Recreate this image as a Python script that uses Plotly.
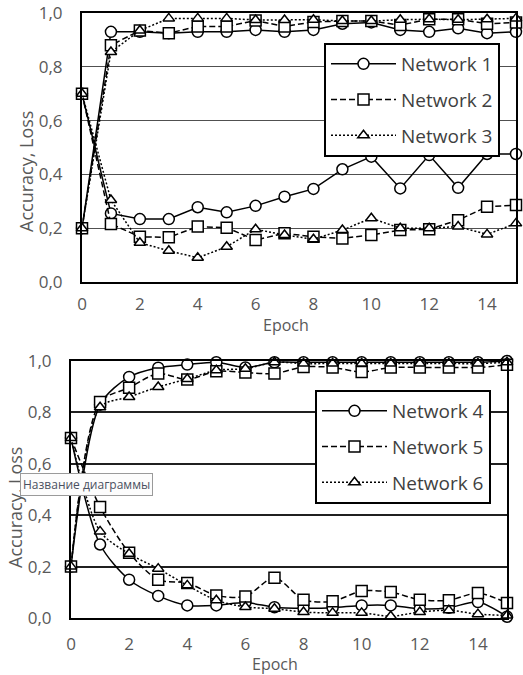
import plotly.graph_objects as go

epochs = list(range(16))

# Top chart
acc_n1 = [0.20, 0.93, 0.93, 0.925, 0.93, 0.93, 0.937, 0.93, 0.937, 0.96, 0.965, 0.937, 0.93, 0.943, 0.925, 0.93]
loss_n1 = [0.70, 0.255, 0.234, 0.234, 0.278, 0.259, 0.283, 0.317, 0.346, 0.419, 0.466, 0.348, 0.472, 0.35, 0.476, 0.476]
acc_n2 = [0.20, 0.88, 0.935, 0.925, 0.95, 0.95, 0.972, 0.95, 0.967, 0.97, 0.97, 0.955, 0.977, 0.977, 0.96, 0.965]
loss_n2 = [0.70, 0.216, 0.168, 0.166, 0.206, 0.202, 0.156, 0.181, 0.168, 0.162, 0.175, 0.193, 0.196, 0.23, 0.28, 0.286]
acc_n3 = [0.20, 0.855, 0.935, 0.98, 0.98, 0.98, 0.974, 0.974, 0.975, 0.97, 0.97, 0.975, 0.977, 0.975, 0.977, 0.98]
loss_n3 = [0.70, 0.305, 0.146, 0.116, 0.09, 0.131, 0.196, 0.175, 0.159, 0.193, 0.237, 0.20, 0.20, 0.206, 0.177, 0.218]

# Bottom chart
acc_n4 = [0.20, 0.83, 0.938, 0.974, 0.986, 0.995, 0.975, 0.995, 0.995, 0.995, 0.995, 0.995, 0.995, 0.995, 0.995, 1.0]
loss_n4 = [0.70, 0.286, 0.149, 0.086, 0.049, 0.049, 0.06, 0.042, 0.038, 0.04, 0.049, 0.049, 0.036, 0.04, 0.062, 0.005]
acc_n5 = [0.20, 0.84, 0.896, 0.951, 0.928, 0.96, 0.955, 0.951, 0.977, 0.975, 0.957, 0.975, 0.975, 0.975, 0.975, 0.985]
loss_n5 = [0.70, 0.432, 0.254, 0.149, 0.136, 0.088, 0.084, 0.157, 0.071, 0.065, 0.105, 0.101, 0.071, 0.069, 0.097, 0.058]
acc_n6 = [0.20, 0.82, 0.86, 0.899, 0.93, 0.964, 0.97, 0.995, 0.99, 0.99, 0.99, 0.99, 0.99, 0.99, 0.99, 0.995]
loss_n6 = [0.70, 0.337, 0.25, 0.192, 0.127, 0.069, 0.043, 0.036, 0.023, 0.02, 0.02, 0.007, 0.023, 0.03, 0.015, 0.01]

y_ticks = [0.0, 0.2, 0.4, 0.6, 0.8, 1.0]
x_ticks = [0, 2, 4, 6, 8, 10, 12, 14]

W, H = 523, 675
FONT = "Open Sans"
GRAY = "#595959"

styles = {
    "circle": dict(dash="solid", size=11),
    "square": dict(dash="6px,3px", size=11),
    "triangle-up": dict(dash="2px,2px", size=10),
}

fig = go.Figure()

def add_net(name, acc, loss, symbol, xa, ya, legend, spline):
    st = styles[symbol]
    for i, ys in enumerate([acc, loss]):
        fig.add_trace(go.Scatter(
            x=epochs, y=ys, name=name, legendgroup=name, showlegend=(i == 0),
            legend=legend, xaxis=xa, yaxis=ya, mode="lines+markers",
            cliponaxis=False, hoverinfo="skip",
            line=dict(color="black", width=1.5, dash=st["dash"],
                      shape="spline" if spline else "linear", smoothing=0.8),
            marker=dict(symbol=symbol, size=st["size"], color="white",
                        line=dict(color="black", width=1.5)),
        ))

add_net("Network 1", acc_n1, loss_n1, "circle", "x", "y", "legend", False)
add_net("Network 2", acc_n2, loss_n2, "square", "x", "y", "legend", False)
add_net("Network 3", acc_n3, loss_n3, "triangle-up", "x", "y", "legend", False)
add_net("Network 4", acc_n4, loss_n4, "circle", "x2", "y2", "legend2", True)
add_net("Network 5", acc_n5, loss_n5, "square", "x2", "y2", "legend2", True)
add_net("Network 6", acc_n6, loss_n6, "triangle-up", "x2", "y2", "legend2", True)

def xaxis(left, right, anchor, standoff):
    return dict(domain=[left / W, right / W], range=[0, 15], anchor=anchor,
                tickvals=x_ticks, showgrid=False, zeroline=False, automargin=False,
                showline=True, linecolor="black", linewidth=2, mirror=True,
                ticks="outside", ticklen=0, tickcolor="rgba(0,0,0,0)",
                ticklabelstandoff=standoff,
                tickfont=dict(family=FONT, size=17, color=GRAY),
                fixedrange=True)

def yaxis(top, bottom, anchor, gridw, gridc):
    return dict(domain=[1 - bottom / H, 1 - top / H], range=[0, 1], anchor=anchor,
                tickvals=y_ticks, tickformat=".1f", showgrid=True, automargin=False,
                gridcolor=gridc, gridwidth=gridw, zeroline=False,
                showline=True, linecolor="black", linewidth=2, mirror=True,
                ticks="outside", ticklen=0, tickcolor="rgba(0,0,0,0)",
                ticklabelstandoff=14,
                tickfont=dict(family=FONT, size=17, color=GRAY),
                fixedrange=True)

leg_common = dict(bgcolor="white", bordercolor="black", borderwidth=2,
                  font=dict(family=FONT, size=19, color="#3f3f3f"),
                  xanchor="left", yanchor="top", tracegroupgap=8,
                  itemwidth=65, traceorder="grouped")

fig.update_layout(
    template="none",
    width=W, height=H, margin=dict(l=0, r=0, t=0, b=0, autoexpand=False),
    paper_bgcolor="white", plot_bgcolor="white",
    separators=", ",
    xaxis=xaxis(82, 516, "y", 6),
    yaxis=yaxis(13, 282, "x", 1, "#505050"),
    xaxis2=xaxis(71, 507, "y2", 10),
    yaxis2=yaxis(361, 618, "x2", 1.5, "#202020"),
    legend=dict(x=324 / W, y=1 - 43 / H, **leg_common),
    legend2=dict(x=315 / W, y=1 - 390 / H, **leg_common),
    showlegend=True,
    annotations=[
        dict(text="Epoch", xref="paper", yref="paper", x=286 / W, y=1 - 325 / H,
             xanchor="center", yanchor="middle",
             showarrow=False, font=dict(family=FONT, size=16, color=GRAY)),
        dict(text="Epoch", xref="paper", yref="paper", x=275 / W, y=1 - 664 / H,
             xanchor="center", yanchor="middle",
             showarrow=False, font=dict(family=FONT, size=16, color=GRAY)),
        dict(text="Accuracy, Loss", xref="paper", yref="paper", x=26 / W, y=1 - 172 / H,
             xanchor="center", yanchor="middle",
             textangle=-90, showarrow=False, font=dict(family=FONT, size=18, color=GRAY)),
        dict(text="Accuracy, Loss", xref="paper", yref="paper", x=15 / W, y=1 - 508 / H,
             xanchor="center", yanchor="middle",
             textangle=-90, showarrow=False, font=dict(family=FONT, size=18, color=GRAY)),
        dict(text="Название диаграммы", xref="paper", yref="paper", x=86 / W, y=1 - 484 / H,
             xanchor="center", yanchor="middle",
             showarrow=False, bgcolor="#fcfcfc", bordercolor="#9a9a9a", borderwidth=1,
             borderpad=2, font=dict(family=FONT, size=12, color="#4a5060")),
    ],
)

fig.write_html("out.html")
